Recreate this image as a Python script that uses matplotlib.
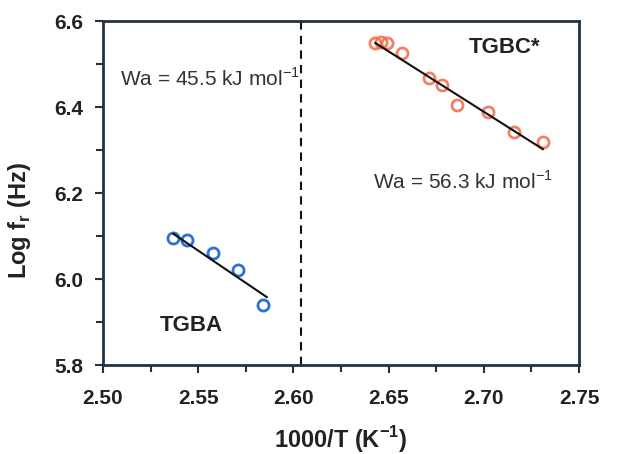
import matplotlib
matplotlib.use("Agg")
import matplotlib.pyplot as plt
from matplotlib.ticker import MultipleLocator

plt.rcParams['font.family'] = ['Liberation Sans', 'DejaVu Sans']

# TGBA phase (blue)
tgba_x = [2.537, 2.544, 2.558, 2.571, 2.584]
tgba_y = [6.095, 6.090, 6.060, 6.021, 5.940]
tgba_fit_x = [2.537, 2.586]
tgba_fit_y = [6.105, 5.958]

# TGBC* phase (red)
tgbc_x = [2.643, 2.646, 2.649, 2.657, 2.671, 2.678, 2.686, 2.702, 2.716, 2.731]
tgbc_y = [6.549, 6.551, 6.549, 6.526, 6.467, 6.451, 6.405, 6.388, 6.342, 6.319]
tgbc_fit_x = [2.643, 2.731]
tgbc_fit_y = [6.549, 6.302]

transition_x = 2.604

spine_color = "#1f3340"

fig = plt.figure(figsize=(6.18, 4.54), dpi=100)
ax = fig.add_axes([0.1667, 0.196, 0.7702, 0.7577])

# Data points
ax.plot(tgba_x, tgba_y, "o", mfc="none", mec="#2f6fd8", mew=2, ms=8)
ax.plot(tgbc_x, tgbc_y, "o", mfc="none", mec="#f26a48", mew=2, ms=8, alpha=0.85)

# Fit lines
ax.plot(tgba_fit_x, tgba_fit_y, color="#111111", lw=1.5)
ax.plot(tgbc_fit_x, tgbc_fit_y, color="#111111", lw=1.5)

# Phase boundary
ax.axvline(transition_x, color="#111111", ls=(0, (4, 3)), lw=1.5)

# Annotations
ax.text(2.509, 6.45, "Wa = 45.5 kJ mol$^{\\mathregular{-1}}$", fontsize=15, color="#333333")
ax.text(2.642, 6.21, "Wa = 56.3 kJ mol$^{\\mathregular{-1}}$", fontsize=15, color="#333333")
ax.text(2.692, 6.525, "TGBC*", fontsize=16, fontweight="bold", color="#222222")
ax.text(2.530, 5.878, "TGBA", fontsize=16, fontweight="bold", color="#222222")

# Axes limits and ticks
ax.set_xlim(2.50, 2.75)
ax.set_ylim(5.8, 6.6)
ax.xaxis.set_major_locator(MultipleLocator(0.05))
ax.xaxis.set_minor_locator(MultipleLocator(0.025))
ax.yaxis.set_major_locator(MultipleLocator(0.2))
ax.yaxis.set_minor_locator(MultipleLocator(0.1))
ax.xaxis.set_major_formatter(plt.FormatStrFormatter("%.2f"))
ax.yaxis.set_major_formatter(plt.FormatStrFormatter("%.1f"))

for s in ax.spines.values():
    s.set_color(spine_color)
    s.set_linewidth(2)
ax.tick_params(which="both", direction="out", color=spine_color, width=1.5,
               labelsize=15, labelcolor="#222222")
ax.tick_params(which="major", length=6, pad=8)
ax.tick_params(axis="x", which="major", pad=11)
ax.tick_params(which="minor", length=5)
for lbl in ax.get_xticklabels() + ax.get_yticklabels():
    lbl.set_fontweight("bold")

ax.set_xlabel("1000/T (K$^{\\mathregular{-1}}$)", fontsize=17, fontweight="bold",
              color="#222222", labelpad=12)
ax.set_ylabel("Log f$_{\\mathregular{r}}$ (Hz)", fontsize=17, fontweight="bold",
              color="#222222")
ax.yaxis.set_label_coords(-0.148, 0.42)

plt.savefig("out.png", dpi=100)
